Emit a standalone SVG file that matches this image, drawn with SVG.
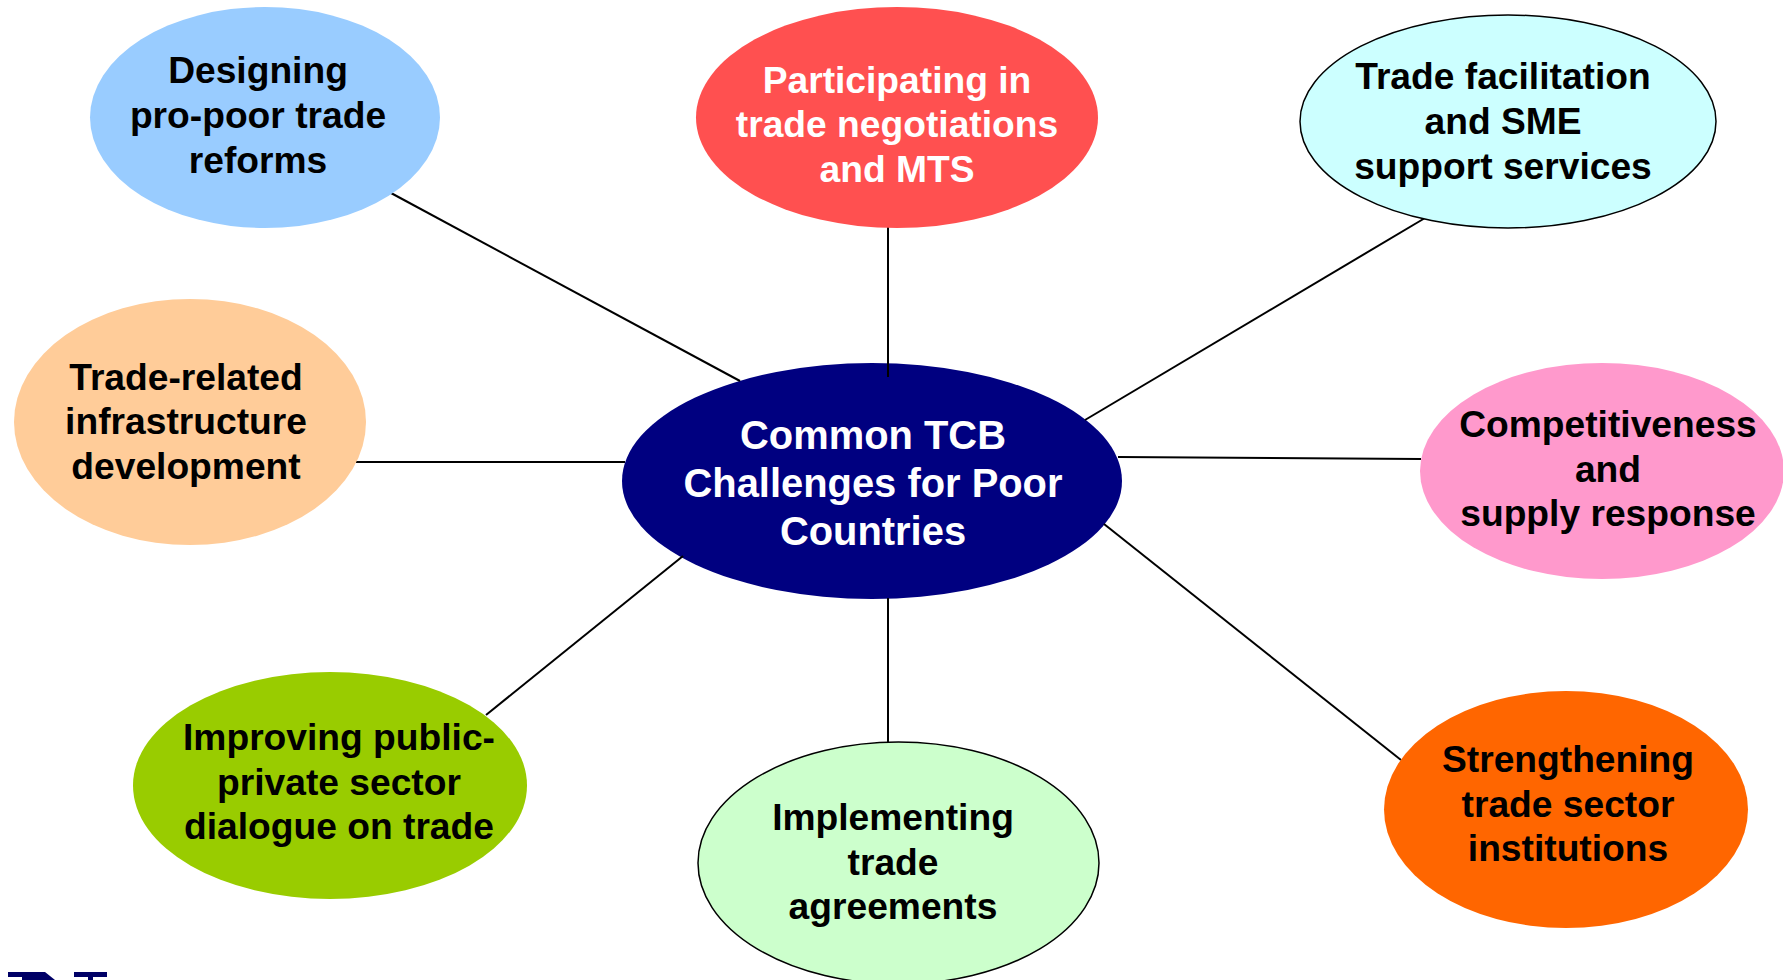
<svg xmlns="http://www.w3.org/2000/svg" width="1783" height="980" viewBox="0 0 1783 980">
<style>
text{font-family:"Liberation Sans",Arial,sans-serif;font-weight:bold;font-size:37.2px;text-anchor:middle;fill:#000}
.w{fill:#fff}
.c{font-size:39.9px}
.s{stroke:#000;stroke-width:1.5}
#connectors line{stroke:#000;stroke-width:2;fill:none}
</style>
<rect width="1783" height="980" fill="#fff"/>
<g id="node-center"><ellipse cx="872" cy="481" rx="250" ry="118" fill="#000080"/>
<text class="w c"><tspan x="873" y="448.5">Common TCB</tspan><tspan x="873" y="496.5">Challenges for Poor</tspan><tspan x="873" y="544.5">Countries</tspan></text></g>
<g id="connectors">
<line x1="391" y1="193" x2="740" y2="381"/>
<line x1="888" y1="227" x2="888" y2="377"/>
<line x1="1425" y1="218" x2="1085" y2="420"/>
<line x1="1118" y1="457" x2="1421" y2="459"/>
<line x1="1104" y1="524" x2="1401" y2="760"/>
<line x1="888" y1="598" x2="888" y2="742"/>
<line x1="683" y1="556" x2="486" y2="715"/>
<line x1="356" y1="462" x2="625" y2="462"/>
</g>
<g id="node-designing"><ellipse cx="265" cy="117.5" rx="175" ry="110.5" fill="#99ccff"/>
<text><tspan x="258" y="83">Designing</tspan><tspan x="258" y="128">pro-poor trade</tspan><tspan x="258" y="173">reforms</tspan></text></g>
<g id="node-participating"><ellipse cx="897" cy="117.5" rx="201" ry="110.5" fill="#ff5050"/>
<text class="w"><tspan x="897" y="93">Participating in</tspan><tspan x="897" y="137">trade negotiations</tspan><tspan x="897" y="182">and MTS</tspan></text></g>
<g id="node-facilitation"><ellipse class="s" cx="1508" cy="121.5" rx="208" ry="106.5" fill="#ccffff"/>
<text><tspan x="1503" y="89">Trade facilitation</tspan><tspan x="1503" y="134">and SME</tspan><tspan x="1503" y="179">support services</tspan></text></g>
<g id="node-competitiveness"><ellipse cx="1602" cy="471" rx="182" ry="108" fill="#ff99cc"/>
<text><tspan x="1608" y="437">Competitiveness</tspan><tspan x="1608" y="482">and</tspan><tspan x="1608" y="526">supply response</tspan></text></g>
<g id="node-strengthening"><ellipse cx="1566" cy="809.5" rx="182" ry="118.5" fill="#ff6600"/>
<text><tspan x="1568" y="772">Strengthening</tspan><tspan x="1568" y="817">trade sector</tspan><tspan x="1568" y="861">institutions</tspan></text></g>
<g id="node-implementing"><ellipse class="s" cx="898.5" cy="863" rx="200.5" ry="121" fill="#ccffcc"/>
<text><tspan x="893" y="830">Implementing</tspan><tspan x="893" y="874.5">trade</tspan><tspan x="893" y="919">agreements</tspan></text></g>
<g id="node-improving"><ellipse cx="330" cy="785.5" rx="197" ry="113.5" fill="#99cc00"/>
<text><tspan x="339" y="750">Improving public-</tspan><tspan x="339" y="794.5">private sector</tspan><tspan x="339" y="839">dialogue on trade</tspan></text></g>
<g id="node-infrastructure"><ellipse cx="190" cy="422" rx="176" ry="123" fill="#ffcc99"/>
<text><tspan x="186" y="390">Trade-related</tspan><tspan x="186" y="434">infrastructure</tspan><tspan x="186" y="478.5">development</tspan></text></g>
<path d="M8 972H45L55 980H22V977H8Z" fill="#000066"/>
<path d="M74 972H107V977H93V980H88V977H74Z" fill="#000066"/>
</svg>
